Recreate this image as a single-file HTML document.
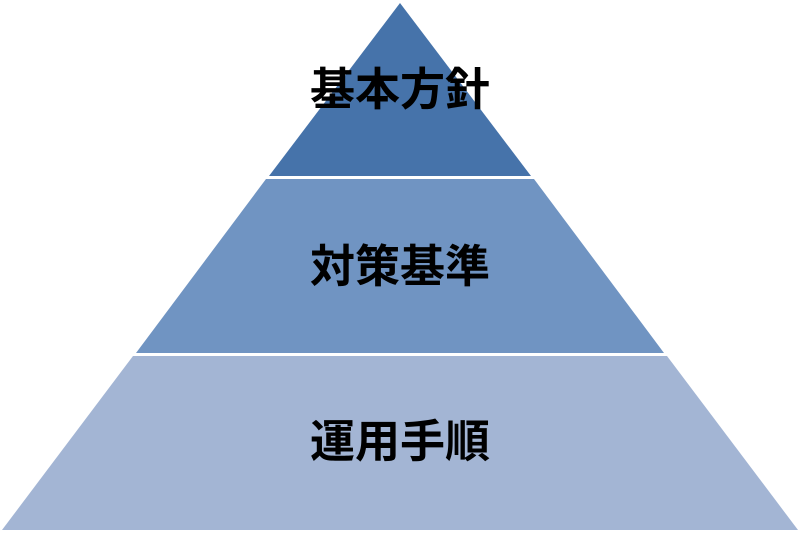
<!DOCTYPE html>
<html><head><meta charset="utf-8"><style>
html,body{margin:0;padding:0;background:#fff;width:800px;height:533px;overflow:hidden}
</style></head><body>
<svg width="800" height="533" xmlns="http://www.w3.org/2000/svg">
<polygon points="400,3 531,176 269,176" fill="#4673AA"/>
<polygon points="266,179 534,179 664,353 136,353" fill="#7094C2"/>
<polygon points="133,356 667,356 798,530 2,530" fill="#A3B5D4"/>
<g font-family="Liberation Sans, Noto Sans CJK JP, sans-serif" font-size="45" font-weight="bold" text-anchor="middle" fill="#000">
<text x="400" y="105">基本方針</text>
<text x="400" y="282">対策基準</text>
<text x="400" y="457">運用手順</text>
</g>
</svg>
</body></html>
